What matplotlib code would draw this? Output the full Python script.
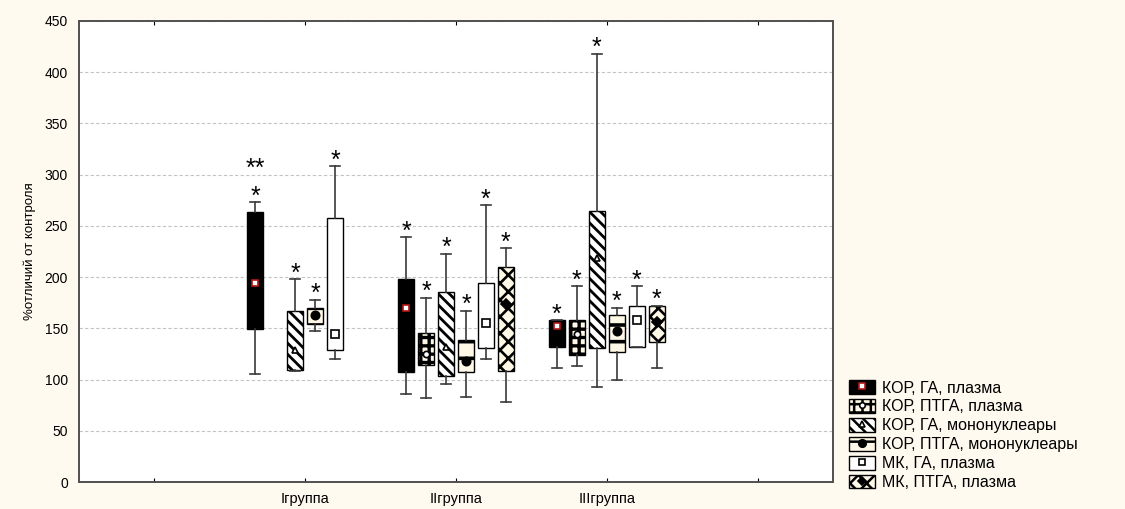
import matplotlib.pyplot as plt
from matplotlib.patches import Patch
from matplotlib.lines import Line2D
from matplotlib.legend_handler import HandlerTuple

plt.rcParams['font.family'] = ['Liberation Sans', 'DejaVu Sans']
plt.rcParams['hatch.linewidth'] = 1.8

groups = ['Iгруппа', 'IIгруппа', 'IIIгруппа']

names = ['КОР, ГА, плазма', 'КОР, ПТГА, плазма', 'КОР, ГА, мононуклеары',
         'КОР, ПТГА, мононуклеары', 'МК, ГА, плазма', 'МК, ПТГА, плазма']

# min, Q1, median, Q3, max for each group (None = not measured)
kor_ga_pl = [[105, 149, 194, 264, 273], [86, 107, 170, 198, 239], [111, 132, 152, 158, 158]]
kor_ptga_pl = [None, [82, 114, 125, 145, 180], [113, 124, 144, 158, 191]]
kor_ga_mono = [[108, 109, 129, 167, 198], [96, 103, 132, 185, 223], [93, 131, 219, 265, 418]]
kor_ptga_mono = [[147, 154, 163, 170, 178], [83, 107, 118, 139, 167], [100, 127, 147, 163, 170]]
mk_ga_pl = [[120, 129, 144, 258, 308], [120, 131, 155, 194, 270], [132, 132, 158, 172, 191]]
mk_ptga_pl = [None, [78, 108, 174, 210, 228], [111, 137, 156, 172, 172]]

# significance marks above each box
sig = [['*', '*', '*'], [None, '*', '*'], ['*', '*', '*'],
       ['*', '*', '*'], ['*', '*', '*'], [None, '*', '*']]
sig2 = [['**', None, None], [None] * 3, [None] * 3, [None] * 3, [None] * 3, [None] * 3]

data = [kor_ga_pl, kor_ptga_pl, kor_ga_mono, kor_ptga_mono, mk_ga_pl, mk_ptga_pl]

cream = '#fff8e6'
styles = [
    dict(face='black', hatch=None, hlw=1.0, marker='s', mfc='white', mec='#b01818', ms=5),
    dict(face=cream, hatch='++', hlw=2.4, marker='o', mfc='white', mec='black', ms=4.5),
    dict(face='white', hatch='\\\\\\', hlw=2.0, marker='^', mfc='white', mec='black', ms=5),
    dict(face=cream, hatch='-', hlw=2.6, marker='o', mfc='black', mec='black', ms=6),
    dict(face='white', hatch=None, hlw=1.0, marker='s', mfc='white', mec='black', ms=5.5),
    dict(face=cream, hatch='xx', hlw=1.9, marker='D', mfc='black', mec='black', ms=5),
]


def set_hatch_lw(artist, lw):
    if hasattr(artist, 'set_hatch_linewidth'):
        artist.set_hatch_linewidth(lw)


fig = plt.figure(figsize=(11.25, 5.09), dpi=100, facecolor='#fffaef')
ax = fig.add_axes([79 / 1125, 27 / 509, 754 / 1125, 461 / 509])
ax.set_facecolor('white')

step = 0.1325
width = 0.106
for k, (series, st) in enumerate(zip(data, styles)):
    stats, pos, gidx = [], [], []
    for g, v in enumerate(series):
        if v is None:
            continue
        lo, q1, med, q3, hi = v
        stats.append(dict(whislo=lo, q1=q1, med=med, q3=q3, whishi=hi, fliers=[]))
        pos.append(g + 1 + (k - 2.5) * step)
        gidx.append(g)
    bp = ax.bxp(stats, positions=pos, widths=width, capwidths=0.066, patch_artist=True,
                showfliers=False, manage_ticks=False,
                boxprops=dict(facecolor=st['face'], edgecolor='black', linewidth=1.0,
                              hatch=st['hatch']),
                whiskerprops=dict(color='#3a3a3a', linewidth=1.2),
                capprops=dict(color='#3a3a3a', linewidth=1.2),
                medianprops=dict(visible=False))
    for b in bp['boxes']:
        set_hatch_lw(b, st['hlw'])
    meds = [s['med'] for s in stats]
    ax.plot(pos, meds, ls='none', marker=st['marker'], ms=st['ms'],
            mfc=st['mfc'], mec=st['mec'], mew=1.2, zorder=5)
    for p, s, g in zip(pos, stats, gidx):
        if sig[k][g]:
            ax.annotate(sig[k][g], (p, s['whishi']), xytext=(0, -1),
                        textcoords='offset points', ha='center', va='baseline',
                        fontsize=18)
        if sig2[k][g]:
            ax.annotate(sig2[k][g], (p, s['whishi']), xytext=(0, 19),
                        textcoords='offset points', ha='center', va='baseline',
                        fontsize=18)

ax.set_xlim(-0.5, 4.5)
ax.set_ylim(0, 450)
ax.set_yticks(range(0, 451, 50))
ax.set_xticks(range(5))
ax.set_xticklabels([''] + groups + [''])
ax.tick_params(axis='x', direction='in', length=3, top=True, labelsize=10.5, pad=7)
ax.tick_params(axis='y', length=0, labelsize=10, pad=8)
ax.yaxis.grid(True, color='#c4c4c4', linestyle=(0, (3, 2)), linewidth=0.8)
ax.set_axisbelow(True)
for sp in ax.spines.values():
    sp.set_color('#505050')
    sp.set_linewidth(1.4)
ax.set_ylabel('%отличий от контроля', fontsize=9.5, labelpad=6)

handles = []
for st in styles:
    patch = Patch(facecolor=st['face'], edgecolor='black', hatch=st['hatch'], linewidth=1.0)
    set_hatch_lw(patch, st['hlw'])
    mark = Line2D([], [], ls='none', marker=st['marker'], ms=st['ms'] * 0.9,
                  mfc=st['mfc'], mec=st['mec'], mew=1.2)
    handles.append((patch, mark))
fig.legend(handles, names, handler_map={tuple: HandlerTuple(ndivide=1, pad=0)},
           loc='lower left', bbox_to_anchor=(849 / 1125, 19 / 509),
           frameon=False, fontsize=11.5, handlelength=1.6, handleheight=0.95,
           handletextpad=0.45, labelspacing=0.22, borderpad=0, borderaxespad=0)

fig.savefig('out.png', dpi=100, facecolor=fig.get_facecolor())
